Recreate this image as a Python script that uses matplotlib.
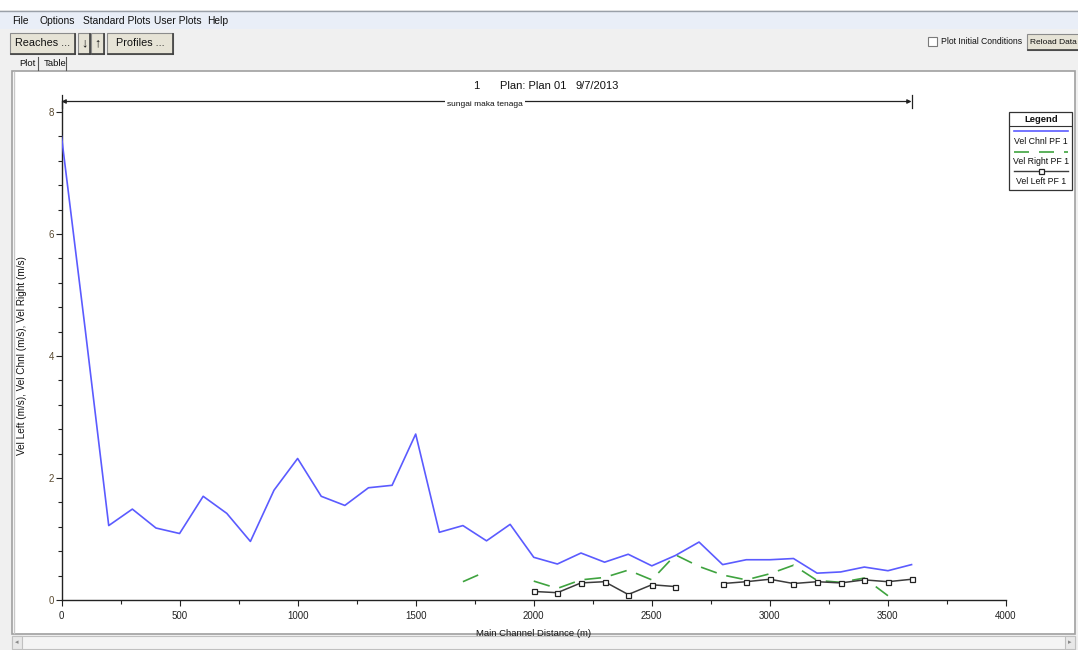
import numpy as np
import matplotlib
matplotlib.use("Agg")
import matplotlib.pyplot as plt
from matplotlib.patches import Rectangle
from matplotlib.lines import Line2D
import matplotlib.transforms as mtransforms

plt.rcParams['font.family'] = ['Liberation Sans', 'DejaVu Sans']

# ---------------- data ----------------
dist = [0, 100, 200, 300, 400, 500, 600, 700, 800, 900, 1000, 1100, 1200,
        1300, 1400, 1500, 1600, 1700, 1800, 1900, 2000, 2100, 2200, 2300,
        2400, 2500, 2600, 2700, 2800, 2900, 3000, 3100, 3200, 3300, 3400,
        3500, 3600]
nan = np.nan
vel_chnl = [7.60, 4.45, 1.22, 1.49, 1.18, 1.09, 1.70, 1.42, 0.96, 1.80,
            2.32, 1.70, 1.55, 1.84, 1.88, 2.72, 1.11, 1.22, 0.97, 1.24,
            0.70, 0.59, 0.77, 0.62, 0.75, 0.56, 0.73, 0.95, 0.58, 0.66,
            0.66, 0.68, 0.44, 0.46, 0.54, 0.48, 0.58]
vel_right = [nan, nan, nan, nan, nan, nan, nan, nan, nan, nan, nan, nan,
             nan, nan, nan, nan, nan, 0.30, 0.47, nan, 0.31, 0.19, 0.33,
             0.37, 0.49, 0.33, 0.74, 0.55, 0.41, 0.33, 0.43, 0.57, 0.32,
             0.29, 0.36, 0.07, nan]
vel_left = [nan, nan, nan, nan, nan, nan, nan, nan, nan, nan, nan, nan,
            nan, nan, nan, nan, nan, nan, nan, nan, 0.14, 0.12, 0.28, 0.30,
            0.09, 0.25, 0.22, nan, 0.27, 0.30, 0.34, 0.27, 0.30, 0.28, 0.33,
            0.30, 0.34]
reach_start, reach_end = 0, 3600
reach_name = "sungai maka tenaga"
series_names = ["Vel Chnl PF 1", "Vel Right PF 1", "Vel Left PF 1"]

W, H = 1078, 650
fig = plt.figure(figsize=(W / 100, H / 100), dpi=100)
fig.patch.set_facecolor("#f0f0f0")


def fx(x):
    return x / W


def fy(y):
    return 1 - y / H


def rect(x0, y0, x1, y1, fc, ec="none", lw=0.8, z=0):
    r = Rectangle((fx(x0), fy(y1)), fx(x1) - fx(x0), fy(y0) - fy(y1),
                  transform=fig.transFigure, facecolor=fc, edgecolor=ec,
                  linewidth=lw, zorder=z)
    fig.add_artist(r)
    return r


def hline(x0, x1, y, color, lw=1.0, z=1):
    fig.add_artist(Line2D([fx(x0), fx(x1)], [fy(y), fy(y)], transform=fig.transFigure,
                          color=color, lw=lw, zorder=z))


def vline(x, y0, y1, color, lw=1.0, z=1):
    fig.add_artist(Line2D([fx(x), fx(x)], [fy(y0), fy(y1)], transform=fig.transFigure,
                          color=color, lw=lw, zorder=z))


def txt(x, y, s, size=7.5, ha="left", va="center", **kw):
    fig.text(fx(x), fy(y), s, fontsize=size, ha=ha, va=va, **kw)


# ---------------- window chrome ----------------
rect(0, 0, W, 10, "white")
hline(0, W, 10.5, "#9aa0a8", lw=1)
rect(0, 11, W, 29, "#e9eef7")
for x, s in [(12, "File"), (39, "Options"), (83, "Standard Plots"),
             (154, "User Plots"), (207, "Help")]:
    txt(x, 20.5, s, size=7.4, color="#111111")


def button(x0, y0, x1, y1, label, size=7.8, weight="normal"):
    rect(x0, y0, x1, y1, "#e6e3d6", ec="#8c8c8c", lw=0.8, z=2)
    hline(x0 + 1, x1, y1 - 0.5, "#404040", lw=1.2, z=3)
    vline(x1 - 0.5, y0 + 1, y1, "#404040", lw=1.2, z=3)
    txt((x0 + x1) / 2, (y0 + y1) / 2, label, size=size, ha="center",
        color="#111111", weight=weight, zorder=4)


button(10, 33, 75, 54, "Reaches ...")
button(78, 33, 90, 54, "\u2193", size=9, weight="bold")
button(91, 33, 104, 54, "\u2191", size=9, weight="bold")
button(107, 33, 173, 54, "Profiles ...")

rect(928, 37, 937, 46, "white", ec="#7a7a7a", lw=0.8, z=2)
txt(941, 42, "Plot Initial Conditions", size=6.2, color="#111111")
button(1027, 34, 1084, 50, "", size=6.0)
txt(1030, 42, "Reload Data", size=6.0, color="#111111", zorder=4)

txt(19, 63, "Plot", size=6.8, color="#111111")
vline(38, 57, 70, "#555555", lw=0.8)
txt(44, 63, "Table", size=6.8, color="#111111")
vline(66, 57, 70, "#555555", lw=0.8)

# plot panel
rect(12, 71, 1075, 634, "white", ec="#a0a0a0", lw=1.2, z=0.5)
vline(14, 72, 633, "#c8c8c8", lw=1)
# scrollbar
rect(12, 636, 1075, 649, "#f4f4f4", ec="#c0c0c0", lw=0.8, z=0.5)
rect(12, 636, 22, 649, "#e8e8e8", ec="#c0c0c0", lw=0.8, z=0.6)
txt(17, 642.5, "\u25c2", size=5, ha="center", color="#888888")
rect(1065, 636, 1075, 649, "#e8e8e8", ec="#c0c0c0", lw=0.8, z=0.6)
txt(1070, 642.5, "\u25b8", size=5, ha="center", color="#888888")

# ---------------- axes ----------------
ax_l, ax_r, ax_b, ax_t = 61.5, 1006, 600, 101
ax = fig.add_axes([fx(ax_l), fy(ax_b), fx(ax_r) - fx(ax_l), fy(ax_t) - fy(ax_b)])
ax.set_zorder(2)
ax.patch.set_visible(False)
ax.set_xlim(0, 4000)
ax.set_ylim(0, 8.18)
for s in ["top", "right"]:
    ax.spines[s].set_visible(False)
for s in ["left", "bottom"]:
    ax.spines[s].set_color("#222222")
    ax.spines[s].set_linewidth(1.0)
ax.set_xticks([0, 500, 1000, 1500, 2000, 2500, 3000, 3500, 4000])
ax.set_xticks(np.arange(250, 4000, 500), minor=True)
ax.set_yticks([0, 2, 4, 6, 8])
ax.set_yticks([v for v in np.arange(0, 8.01, 0.4)], minor=True)
ax.tick_params(axis="both", which="major", direction="out", length=4,
               width=0.8, labelsize=7, colors="#222222", pad=1.5)
ax.tick_params(axis="both", which="minor", direction="out", length=3,
               width=0.8, colors="#222222")
ax.tick_params(axis="x", pad=4)
for lbl in ax.get_yticklabels():
    lbl.set_color("#5a4a30")

ax.plot(dist, vel_chnl, color="#5b5bff", lw=1.2, zorder=3)
ax.plot(dist, vel_right, color="#3fa33f", lw=1.2, dashes=(10, 6), zorder=3)
ax.plot(dist, vel_left, color="#3c3c3c", lw=1.1, marker="s", markersize=3.6,
        markerfacecolor="white", markeredgecolor="#222222", markeredgewidth=0.9,
        zorder=4)

ax.set_xlabel("Main Channel Distance (m)", fontsize=6.8, color="#111111")
ax.xaxis.set_label_coords(0.5, -0.058)
ax.set_ylabel("Vel Left (m/s), Vel Chnl (m/s), Vel Right (m/s)", fontsize=7.2,
              color="#111111")
ax.yaxis.set_label_coords(-0.036, 0.49)

# reach arrow line at top
trans = mtransforms.blended_transform_factory(ax.transData, fig.transFigure)
yr = fy(101.5)
ax.annotate("", xy=(reach_start, yr), xytext=(reach_end, yr), xycoords=trans,
            textcoords=trans,
            arrowprops=dict(arrowstyle="<|-|>", color="#222222", lw=0.9,
                            mutation_scale=6, shrinkA=0, shrinkB=0),
            annotation_clip=False)
for xv in (reach_start, reach_end):
    ax.plot([xv, xv], [fy(95), fy(108)], transform=trans, color="#222222",
            lw=0.9, clip_on=False)
ax.text((reach_start + reach_end) / 2 - 5, fy(104), reach_name, transform=trans,
        fontsize=6, ha="center", va="center", color="#111111",
        bbox=dict(facecolor="white", edgecolor="none", pad=1.5), zorder=5)

# title
txt(476, 86, "1", size=8, ha="center", color="#111111")
txt(500, 86, "Plan: Plan 01", size=8, color="#111111")
txt(576, 86, "9/7/2013", size=8, color="#111111")

# ---------------- legend ----------------
rect(1009, 112, 1072, 190, "white", ec="#333333", lw=0.9, z=5)
txt(1041, 119, "Legend", size=6.8, ha="center", weight="bold", color="#111111",
    zorder=6)
hline(1010, 1071, 126, "#333333", lw=0.8, z=6)
fig.add_artist(Line2D([fx(1014), fx(1068)], [fy(131), fy(131)], transform=fig.transFigure,
                      color="#5b5bff", lw=1.2, zorder=6))
txt(1041, 141, series_names[0], size=6.3, ha="center", color="#111111", zorder=6)
fig.add_artist(Line2D([fx(1014), fx(1068)], [fy(151.5), fy(151.5)],
                      transform=fig.transFigure, color="#3fa33f", lw=1.2,
                      dashes=(9, 6), zorder=6))
txt(1041, 161, series_names[1], size=6.3, ha="center", color="#111111", zorder=6)
fig.add_artist(Line2D([fx(1014), fx(1068)], [fy(171), fy(171)], transform=fig.transFigure,
                      color="#3c3c3c", lw=1.0, zorder=6))
fig.add_artist(Line2D([fx(1041)], [fy(171)], transform=fig.transFigure,
                      marker="s", markersize=3.6, markerfacecolor="white",
                      markeredgecolor="#222222", markeredgewidth=0.9, zorder=7))
txt(1041, 181, series_names[2], size=6.3, ha="center", color="#111111", zorder=6)

fig.savefig("out.png", dpi=100, facecolor=fig.get_facecolor())
